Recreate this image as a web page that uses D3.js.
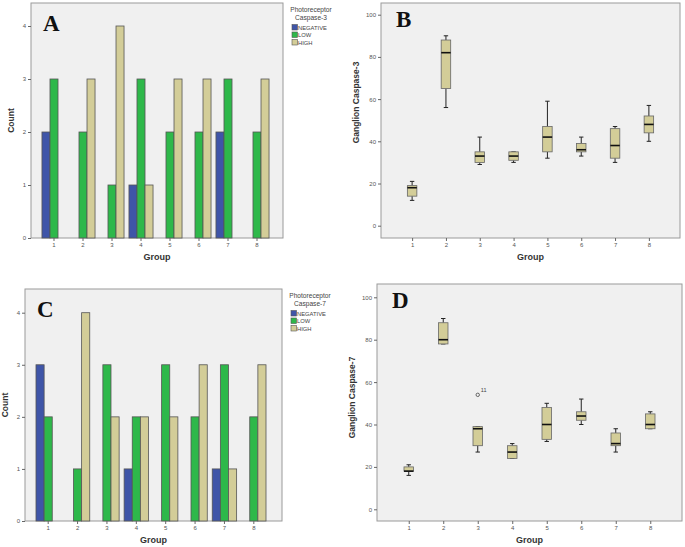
<!DOCTYPE html>
<html>
<head>
<meta charset="utf-8">
<script src="https://cdn.jsdelivr.net/npm/d3@7"></script>
<style>
  body { margin: 0; background: #fff; }
  svg { display: block; font-family: "Liberation Sans", Arial, sans-serif; }
</style>
</head>
<body>
<script>
// Data.
var groups = ["1", "2", "3", "4", "5", "6", "7", "8"];
var levels = ["NEGATIVE", "LOW", "HIGH"];
var colors = ["#3f55a8", "#2eb84a", "#d3cd98"];

// Panel A: Photoreceptor Caspase-3 counts.
var negA  = [2, 0, 0, 1, 0, 0, 2, 0];
var lowA  = [3, 2, 1, 3, 2, 2, 3, 2];
var highA = [0, 3, 4, 1, 3, 3, 0, 3];

// Panel C: Photoreceptor Caspase-7 counts.
var negC  = [3, 0, 0, 1, 0, 0, 1, 0];
var lowC  = [2, 1, 3, 2, 3, 2, 3, 2];
var highC = [0, 4, 2, 2, 2, 3, 1, 3];

var countTicks = [0, 1, 2, 3, 4];
var boxTicks = [0, 20, 40, 60, 80, 100];

// Panel B: Ganglion Caspase-3 boxplots (low whisker, Q1, median, Q3, high whisker).
var lowB  = [12, 56, 29, 30, 32, 33, 30, 40];
var q1B   = [14, 65, 30, 31, 35, 35, 32, 44];
var medB  = [18, 82, 33, 33, 42, 36, 38, 48];
var q3B   = [19, 88, 35, 35, 47, 39, 46, 52];
var highB = [21, 90, 42, 35, 59, 42, 47, 57];

// Panel D: Ganglion Caspase-7 boxplots.
var lowD  = [16, 78, 27, 24, 32, 40, 27, 38];
var q1D   = [18, 78, 30, 24, 33, 42, 30, 38];
var medD  = [18, 80, 38, 27, 40, 44, 31, 40];
var q3D   = [20, 88, 39, 30, 48, 46, 36, 45];
var highD = [21, 90, 39, 31, 50, 52, 38, 46];
var outliersD = [{group: "3", value: 54, label: "11"}];

var svg = d3.select("body").append("svg")
    .attr("width", 685)
    .attr("height", 547);

// Panel frame + grey background.
function frame(g, x0, y0, x1, y1) {
    g.append("rect")
        .attr("x", x0).attr("y", y0)
        .attr("width", x1 - x0).attr("height", y1 - y0)
        .attr("fill", "#f0f0f0")
        .attr("stroke", "#9a9a9a")
        .attr("stroke-width", 1);
}

function styleAxis(ax) {
    ax.select(".domain").remove();
    ax.selectAll("line").attr("stroke", "#666");
    ax.selectAll("text").attr("fill", "#555").attr("font-size", "6px");
}

function letter(g, txt, x, y) {
    g.append("text")
        .attr("x", x).attr("y", y)
        .attr("font-family", "'Liberation Serif', 'Times New Roman', serif")
        .attr("font-weight", "bold")
        .attr("font-size", "23px")
        .attr("fill", "#111")
        .text(txt);
}

function titles(g, xlab, xx, xy, ylab, yx, yy) {
    g.append("text")
        .attr("x", xx).attr("y", xy)
        .attr("text-anchor", "middle")
        .attr("font-size", "9px").attr("font-weight", "bold")
        .attr("fill", "#333")
        .text(xlab);
    g.append("text")
        .attr("transform", "translate(" + yx + "," + yy + ") rotate(-90)")
        .attr("text-anchor", "middle")
        .attr("font-size", "8.5px").attr("font-weight", "bold")
        .attr("fill", "#333")
        .text(ylab);
}

function drawBars(p) {
    var g = svg.append("g");
    frame(g, p.left, p.top, p.right, p.bottom);

    var x = d3.scaleBand().domain(groups).range([p.x0, p.x1]).paddingInner(0.17).paddingOuter(0.085);
    var xs = d3.scaleBand().domain(levels).range([0, x.bandwidth()]);
    var y = d3.scaleLinear().domain([0, 4]).range([p.bottom, p.y4]);

    var series = [p.neg, p.low, p.high];
    levels.forEach(function(lev, k) {
        g.selectAll(".bar" + k)
            .data(series[k].map(function(v, i) { return {g: groups[i], v: v}; }).filter(function(d) { return d.v > 0; }))
          .enter().append("rect")
            .attr("x", function(d) { return x(d.g) + xs(lev); })
            .attr("y", function(d) { return y(d.v); })
            .attr("width", xs.bandwidth())
            .attr("height", function(d) { return p.bottom - y(d.v); })
            .attr("fill", colors[k])
            .attr("stroke", "#555")
            .attr("stroke-width", 0.8);
    });

    var ya = g.append("g").attr("transform", "translate(" + p.left + ",0)")
        .call(d3.axisLeft(y).tickValues(countTicks).tickSize(3).tickPadding(2).tickFormat(d3.format("d")));
    styleAxis(ya);
    var xa = g.append("g").attr("transform", "translate(0," + p.bottom + ")")
        .call(d3.axisBottom(x).tickSize(3).tickPadding(2));
    styleAxis(xa);

    letter(g, p.letter, p.left + 12, p.top + 28);
    titles(g, "Group", (p.left + p.right) / 2, p.bottom + 22, "Count", p.left - 17, (p.top + p.bottom) / 2);

    // Legend.
    var lg = g.append("g").attr("transform", "translate(" + (p.right + 28) + "," + p.top + ")");
    lg.append("text").attr("x", 0).attr("y", 9).attr("text-anchor", "middle")
        .attr("font-size", "6.6px").attr("fill", "#444").text("Photoreceptor");
    lg.append("text").attr("x", 0).attr("y", 16.5).attr("text-anchor", "middle")
        .attr("font-size", "6.6px").attr("fill", "#444").text(p.legendTitle);
    levels.forEach(function(lev, k) {
        lg.append("rect").attr("x", -19).attr("y", 21.5 + k * 7.5)
            .attr("width", 5.5).attr("height", 5.5)
            .attr("fill", colors[k]).attr("stroke", "#555").attr("stroke-width", 0.6);
        lg.append("text").attr("x", -13).attr("y", 26.8 + k * 7.5)
            .attr("font-size", "5.8px").attr("fill", "#444").text(lev);
    });
}

function drawBoxes(p) {
    var g = svg.append("g");
    frame(g, p.left, p.top, p.right, p.bottom);

    var x = d3.scalePoint().domain(groups).range([p.left, p.right]).padding(0.92);
    var y = d3.scaleLinear().domain([0, 100]).range([p.y0, p.y100]);
    var bw = 9.5, cap = 2.2;

    var rows = groups.map(function(gr, i) {
        return {g: gr, lo: p.low[i], q1: p.q1[i], med: p.med[i], q3: p.q3[i], hi: p.high[i]};
    });

    var b = g.selectAll(".box").data(rows).enter().append("g");
    // whiskers
    b.append("line")
        .attr("x1", function(d) { return x(d.g); }).attr("x2", function(d) { return x(d.g); })
        .attr("y1", function(d) { return y(d.hi); }).attr("y2", function(d) { return y(d.q3); })
        .attr("stroke", "#222").attr("stroke-width", 1);
    b.append("line")
        .attr("x1", function(d) { return x(d.g); }).attr("x2", function(d) { return x(d.g); })
        .attr("y1", function(d) { return y(d.q1); }).attr("y2", function(d) { return y(d.lo); })
        .attr("stroke", "#222").attr("stroke-width", 1);
    b.append("line")
        .attr("x1", function(d) { return x(d.g) - cap; }).attr("x2", function(d) { return x(d.g) + cap; })
        .attr("y1", function(d) { return y(d.hi); }).attr("y2", function(d) { return y(d.hi); })
        .attr("stroke", "#222").attr("stroke-width", 1);
    b.append("line")
        .attr("x1", function(d) { return x(d.g) - cap; }).attr("x2", function(d) { return x(d.g) + cap; })
        .attr("y1", function(d) { return y(d.lo); }).attr("y2", function(d) { return y(d.lo); })
        .attr("stroke", "#222").attr("stroke-width", 1);
    // box
    b.append("rect")
        .attr("x", function(d) { return x(d.g) - bw / 2; })
        .attr("y", function(d) { return y(d.q3); })
        .attr("width", bw)
        .attr("height", function(d) { return y(d.q1) - y(d.q3); })
        .attr("fill", "#d3cd98").attr("stroke", "#666").attr("stroke-width", 0.8);
    // median
    b.append("line")
        .attr("x1", function(d) { return x(d.g) - bw / 2; }).attr("x2", function(d) { return x(d.g) + bw / 2; })
        .attr("y1", function(d) { return y(d.med); }).attr("y2", function(d) { return y(d.med); })
        .attr("stroke", "#111").attr("stroke-width", 1.6);

    (p.outliers || []).forEach(function(o) {
        g.append("circle").attr("cx", x(o.group)).attr("cy", y(o.value)).attr("r", 1.7)
            .attr("fill", "none").attr("stroke", "#444").attr("stroke-width", 0.8);
        g.append("text").attr("x", x(o.group) + 3).attr("y", y(o.value) - 3)
            .attr("font-size", "5.5px").attr("fill", "#444").text(o.label);
    });

    var ya = g.append("g").attr("transform", "translate(" + p.left + ",0)")
        .call(d3.axisLeft(y).tickValues(boxTicks).tickSize(3).tickPadding(2));
    styleAxis(ya);
    var xa = g.append("g").attr("transform", "translate(0," + p.bottom + ")")
        .call(d3.axisBottom(x).tickSize(3).tickPadding(2));
    styleAxis(xa);

    letter(g, p.letter, p.left + 15, p.top + 24);
    titles(g, "Group", (p.left + p.right) / 2, p.bottom + 22, p.ylabel, p.left - 22, (p.top + p.bottom) / 2 + p.ylabelShift);
}

drawBars({
    left: 31, top: 3, right: 283, bottom: 238, x0: 39.5, x1: 271.5, y4: 26,
    neg: negA, low: lowA, high: highA, letter: "A", legendTitle: "Caspase-3"
});

drawBars({
    left: 25, top: 289, right: 282, bottom: 521, x0: 33.5, x1: 268.5, y4: 312.7,
    neg: negC, low: lowC, high: highC, letter: "C", legendTitle: "Caspase-7"
});

drawBoxes({
    left: 381, top: 3, right: 680, bottom: 238, y0: 225.7, y100: 14.7,
    low: lowB, q1: q1B, med: medB, q3: q3B, high: highB,
    letter: "B", ylabel: "Ganglion Caspase-3", ylabelShift: -18
});

drawBoxes({
    left: 377, top: 284, right: 682, bottom: 521, y0: 509.3, y100: 297.3,
    low: lowD, q1: q1D, med: medD, q3: q3D, high: highD, outliers: outliersD,
    letter: "D", ylabel: "Ganglion Caspase-7", ylabelShift: -5
});
</script>
</body>
</html>
